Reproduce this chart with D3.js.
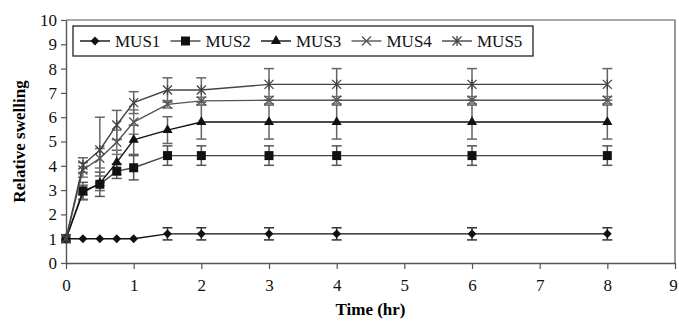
<!DOCTYPE html>
<html>
<head>
<meta charset="utf-8">
<script src="https://cdn.jsdelivr.net/npm/d3@7/dist/d3.min.js"></script>
<style>
  body { margin: 0; background: #fff; }
  svg { display: block; }
  svg text { font-family: "Times New Roman", "Liberation Serif", Times, serif; }
</style>
</head>
<body>
<svg id="chart" width="679" height="326"></svg>
<script>
const times = [0, 0.25, 0.5, 0.75, 1, 1.5, 2, 3, 4, 6, 8];
const seriesNames = ['MUS1', 'MUS2', 'MUS3', 'MUS4', 'MUS5'];

const mus1 = [1, 1, 1, 1, 1, 1.2, 1.2, 1.2, 1.2, 1.2, 1.2];
const mus2 = [1, 2.97, 3.24, 3.78, 3.92, 4.42, 4.42, 4.42, 4.42, 4.42, 4.42];
const mus3 = [1, 2.9, 3.28, 4.14, 5.07, 5.47, 5.8, 5.8, 5.8, 5.8, 5.8];
const mus4 = [1, 3.83, 4.31, 4.97, 5.8, 6.53, 6.67, 6.7, 6.7, 6.7, 6.7];
const mus5 = [1, 4.03, 4.65, 5.68, 6.6, 7.12, 7.12, 7.35, 7.35, 7.35, 7.35];

const err1 = [0, 0, 0, 0, 0, 0.25, 0.25, 0.25, 0.25, 0.25, 0.25];
const err2 = [0, 0.35, 0.5, 0.3, 0.5, 0.4, 0.4, 0.4, 0.4, 0.4, 0.4];
const err3 = [0, 0.3, 0.3, 0.5, 0.6, 0.55, 0.7, 0.7, 0.7, 0.7, 0.7];
const err4 = [0, 0.3, 0.4, 0.5, 0.5, 0.15, 0.15, 0.15, 0.15, 0.15, 0.15];
const err5 = [0, 0.3, 1.35, 0.6, 0.45, 0.5, 0.5, 0.65, 0.65, 0.65, 0.65];

const xTicks = d3.range(0, 10);
const yTicks = d3.range(0, 11);

const values = [mus1, mus2, mus3, mus4, mus5];
const errors = [err1, err2, err3, err4, err5];
const lineColors = ['#111', '#444', '#111', '#555', '#444'];
const errColors = ['#333', '#555', '#666', '#777', '#666'];

const svg = d3.select('#chart');
const margin = { left: 66, top: 20, right: 4, bottom: 63 };
const width = 679 - margin.left - margin.right;
const height = 326 - margin.top - margin.bottom;

const x = d3.scaleLinear().domain([0, 9]).range([0, width]);
const y = d3.scaleLinear().domain([0, 10]).range([height, 0]);

const g = svg.append('g').attr('transform', `translate(${margin.left},${margin.top})`);

// plot frame (top and right)
g.append('path')
  .attr('d', `M0,0H${width}V${height}`)
  .attr('fill', 'none')
  .attr('stroke', '#555')
  .attr('stroke-width', 1.2);

let xAxis = g.append('g')
  .attr('transform', `translate(0,${height})`)
  .call(d3.axisBottom(x).tickValues(xTicks).tickSize(6).tickSizeOuter(0).tickPadding(10));
let yAxis = g.append('g')
  .call(d3.axisLeft(y).tickValues(yTicks).tickSize(5).tickSizeOuter(0).tickPadding(4));

[xAxis, yAxis].forEach(ax => {
  ax.attr('font-family', null);
  ax.select('.domain').attr('stroke', '#555').attr('stroke-width', 1.4);
  ax.selectAll('.tick line').attr('stroke', '#555').attr('stroke-width', 1.2);
  ax.selectAll('.tick text')
    .attr('fill', '#111')
    .style('font-size', '17px');
});
// keep the last x label inside the picture
xAxis.selectAll('.tick text').filter(d => d === 9).attr('dx', -2);

svg.append('text')
  .attr('x', margin.left + x(4.5))
  .attr('y', 315)
  .attr('text-anchor', 'middle')
  .style('font-size', '17px')
  .style('font-weight', 'bold')
  .text('Time (hr)');

svg.append('text')
  .attr('transform', `translate(25,${margin.top + height / 2}) rotate(-90)`)
  .attr('text-anchor', 'middle')
  .style('font-size', '17px')
  .style('font-weight', 'bold')
  .text('Relative swelling');

// marker drawing
function drawMarker(sel, idx, color) {
  if (idx === 0) {
    sel.append('path').attr('d', d3.symbol(d3.symbolDiamond2, 50)()).attr('fill', '#111');
  } else if (idx === 1) {
    sel.append('rect').attr('x', -4.5).attr('y', -4.5).attr('width', 9).attr('height', 9).attr('fill', '#111');
  } else if (idx === 2) {
    sel.append('path').attr('d', d3.symbol(d3.symbolTriangle, 45)()).attr('fill', '#111');
  } else if (idx === 3) {
    sel.append('path').attr('d', 'M-4.5,-4.5L4.5,4.5M-4.5,4.5L4.5,-4.5')
      .attr('stroke', color).attr('stroke-width', 1.3).attr('fill', 'none');
  } else {
    sel.append('path').attr('d', 'M-4.5,-4.5L4.5,4.5M-4.5,4.5L4.5,-4.5M0,-5V5')
      .attr('stroke', color).attr('stroke-width', 1.3).attr('fill', 'none');
  }
}

const line = d3.line().x(d => x(d[0])).y(d => y(d[1]));

// error bars first
values.forEach((vals, si) => {
  times.forEach((t, i) => {
    let e = errors[si][i];
    if (!e) return;
    let eb = g.append('g').attr('stroke', errColors[si]).attr('stroke-width', 1.5);
    eb.append('line').attr('x1', x(t)).attr('x2', x(t)).attr('y1', y(vals[i] - e)).attr('y2', y(vals[i] + e));
    eb.append('line').attr('x1', x(t) - 5).attr('x2', x(t) + 5).attr('y1', y(vals[i] - e)).attr('y2', y(vals[i] - e));
    eb.append('line').attr('x1', x(t) - 5).attr('x2', x(t) + 5).attr('y1', y(vals[i] + e)).attr('y2', y(vals[i] + e));
  });
});

values.forEach((vals, si) => {
  let pts = times.map((t, i) => [t, vals[i]]);
  g.append('path')
    .attr('d', line(pts))
    .attr('fill', 'none')
    .attr('stroke', lineColors[si])
    .attr('stroke-width', 1.4);
  pts.forEach(p => {
    let m = g.append('g').attr('transform', `translate(${x(p[0])},${y(p[1])})`);
    drawMarker(m, si, lineColors[si]);
  });
});

// legend
let legend = svg.append('g').attr('transform', 'translate(73,26)');
legend.append('rect')
  .attr('width', 460).attr('height', 30)
  .attr('fill', '#fff')
  .attr('stroke', '#222')
  .attr('stroke-width', 1.3);

seriesNames.forEach((name, si) => {
  let item = legend.append('g').attr('transform', `translate(${7 + si * 90.5},15)`);
  item.append('line').attr('x1', 0).attr('x2', 30).attr('y1', 0).attr('y2', 0)
    .attr('stroke', lineColors[si]).attr('stroke-width', 1.4);
  let m = item.append('g').attr('transform', 'translate(15,0)');
  drawMarker(m, si, lineColors[si]);
  item.append('text')
    .attr('x', 35).attr('y', 6)
    .style('font-size', '17px')
    .attr('fill', '#111')
    .text(name);
});
</script>
</body>
</html>
